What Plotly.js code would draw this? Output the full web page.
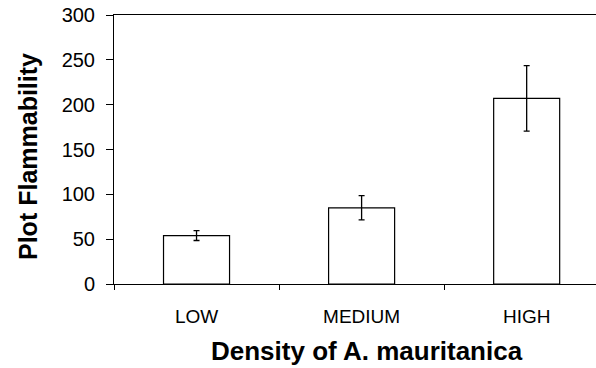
<!DOCTYPE html>
<html>
<head>
<meta charset="utf-8">
<script src="https://cdn.plot.ly/plotly-3.0.1.min.js"></script>
<style>html,body{margin:0;padding:0;background:#fff;}#chart{width:596px;height:368px;}</style>
</head>
<body>
<div id="chart"></div>
<script>
const categories = ["LOW", "MEDIUM", "HIGH"];
const flammability = [54, 85, 207];
const errors = [5.5, 13.5, 36.5];
const yTicks = [0, 50, 100, 150, 200, 250, 300];
const xTitle = "Density of A. mauritanica";
const yTitle = "Plot Flammability";

const font = "Arial, 'Liberation Sans', sans-serif";

const trace = {
  type: "bar",
  x: categories,
  y: flammability,
  width: 0.4,
  marker: {color: "#ffffff", line: {color: "#000000", width: 1.2}},
  error_y: {type: "data", array: errors, visible: true, color: "#000000", thickness: 1.3, width: 3},
  hoverinfo: "none"
};

const layout = {
  width: 596, height: 368,
  margin: {l: 114, r: 0, t: 15, b: 84},
  paper_bgcolor: "#ffffff", plot_bgcolor: "#ffffff",
  showlegend: false,
  xaxis: {
    type: "category",
    range: [-0.5, 2.42],
    showline: true, linecolor: "#000", linewidth: 1, mirror: true,
    ticks: "outside", ticklen: 5, tickcolor: "#000", tickwidth: 1,
    tickson: "boundaries",
    showgrid: false, zeroline: false,
    tickfont: {family: font, size: 19, color: "#000"},
    ticklabelstandoff: 15
  },
  yaxis: {
    range: [0, 300],
    tickvals: yTicks,
    showline: true, linecolor: "#000", linewidth: 1,
    ticks: "outside", ticklen: 7, tickcolor: "#000", tickwidth: 1,
    showgrid: false, zeroline: false,
    tickfont: {family: font, size: 20, color: "#000"},
    ticklabelstandoff: 7
  },
  annotations: [
    {text: "<b>" + xTitle + "</b>", xref: "paper", yref: "paper",
     x: (366.5 - 114) / 482, y: (284 - 351) / 269, xanchor: "center", yanchor: "middle",
     showarrow: false, font: {family: font, size: 26, color: "#000"}},
    {text: "<b>" + yTitle + "</b>", xref: "paper", yref: "paper", textangle: -90,
     x: (27.5 - 114) / 482, y: (284 - 156.5) / 269, xanchor: "center", yanchor: "middle",
     showarrow: false, font: {family: font, size: 25, color: "#000"}}
  ]
};

Plotly.newPlot("chart", [trace], layout, {staticPlot: true, displayModeBar: false});
</script>
</body>
</html>
